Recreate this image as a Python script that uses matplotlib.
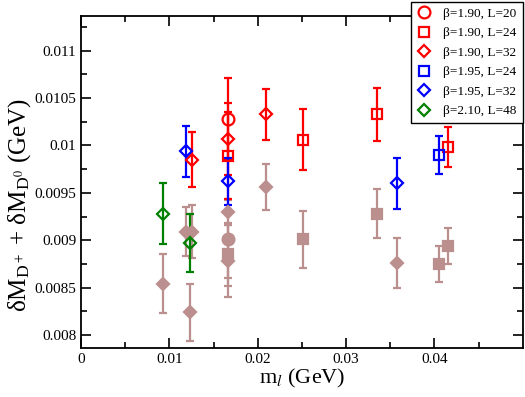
import matplotlib
matplotlib.use('Agg')
import matplotlib.pyplot as plt

plt.rcParams['font.family'] = ['Liberation Serif', 'DejaVu Serif']
plt.rcParams['mathtext.fontset'] = 'stix'

# beta=1.90, L=20 (red circles)
r20_x = [0.01668]
r20_y = [0.01028]
r20_e = [0.00043]
# beta=1.90, L=24 (red squares)
r24_x = [0.01668, 0.0251, 0.03348, 0.04159]
r24_y = [0.00989, 0.01006, 0.01033, 0.00998]
r24_e = [0.00046, 0.00032, 0.00028, 0.00021]
# beta=1.90, L=32 (red diamonds)
r32_x = [0.01253, 0.01668, 0.02091]
r32_y = [0.00985, 0.01007, 0.01033]
r32_e = [0.00029, 0.00038, 0.00027]
# beta=1.95, L=24 (blue squares)
b24_x = [0.04053]
b24_y = [0.0099]
b24_e = [0.0002]
# beta=1.95, L=32 (blue diamonds)
b32_x = [0.01185, 0.01668, 0.03574]
b32_y = [0.00994, 0.00962, 0.0096]
b32_e = [0.00027, 0.00025, 0.00027]
# beta=2.10, L=48 (green diamonds)
g48_x = [0.00925, 0.01234]
g48_y = [0.00928, 0.00897]
g48_e = [0.00032, 0.00031]

# brown filled points
bc_x = [0.01668]
bc_y = [0.00901]
bc_e = [0.00041]
bs_x = [0.01668, 0.0251, 0.03348, 0.04053, 0.04159]
bs_y = [0.00885, 0.00901, 0.00928, 0.00875, 0.00894]
bs_e = [0.00033, 0.0003, 0.00026, 0.00019, 0.00019]
bd_x = [0.00925, 0.01185, 0.01234, 0.01253, 0.01668, 0.01668, 0.02091, 0.03574]
bd_y = [0.00854, 0.00909, 0.00824, 0.00909, 0.0093, 0.00878, 0.00956, 0.00876]
bd_e = [0.00031, 0.00026, 0.0003, 0.00028, 0.00014, 0.00038, 0.00024, 0.00026]

brown = '#bc8f8f'

fig = plt.figure(figsize=(5.25, 3.97), dpi=100)
ax = fig.add_axes([0.1543, 0.1242, 0.8413, 0.8355])

def draw(x, y, e, marker, color, ms, label=None, filled=False):
    ax.errorbar(x, y, yerr=e, fmt='none', ecolor=color, elinewidth=1.6,
                capsize=3, capthick=1.6, zorder=2)
    ax.plot(x, y, ls='none', marker=marker, ms=ms, mec=color,
            mfc=color if filled else 'none', mew=1.6, label=label, zorder=3)

draw(bc_x, bc_y, bc_e, 'o', brown, 8.5, filled=True)
draw(bs_x, bs_y, bs_e, 's', brown, 7.5, filled=True)
draw(bd_x, bd_y, bd_e, 'D', brown, 6.5, filled=True)

draw(r20_x, r20_y, r20_e, 'o', 'red', 8.5, 'β=1.90, L=20')
draw(r24_x, r24_y, r24_e, 's', 'red', 7, 'β=1.90, L=24')
draw(r32_x, r32_y, r32_e, 'D', 'red', 6.5, 'β=1.90, L=32')
draw(b24_x, b24_y, b24_e, 's', 'blue', 7, 'β=1.95, L=24')
draw(b32_x, b32_y, b32_e, 'D', 'blue', 6.5, 'β=1.95, L=32')
draw(g48_x, g48_y, g48_e, 'D', 'green', 6.5, 'β=2.10, L=48')

ax.set_xlim(0, 0.05)
ax.set_ylim(0.007866, 0.011366)
ax.set_xticks([0, 0.01, 0.02, 0.03, 0.04])
ax.set_xticklabels(['0', '0.01', '0.02', '0.03', '0.04'])
ax.set_yticks([0.008, 0.0085, 0.009, 0.0095, 0.01, 0.0105, 0.011])
ax.set_yticklabels(['0.008', '0.0085', '0.009', '0.0095', '0.01', '0.0105', '0.011'])
ax.set_xticks([0.005, 0.015, 0.025, 0.035, 0.045], minor=True)
ax.set_yticks([0.00825 + 0.0005 * i for i in range(7)], minor=True)
ax.tick_params(which='both', direction='in', top=True, right=True, labelsize=11)
ax.tick_params(which='major', length=7, width=1.2)
ax.tick_params(which='minor', length=4, width=1.2)
for s in ax.spines.values():
    s.set_linewidth(1.3)

ax.set_xlabel(r'm$_{l}$ (GeV)', fontsize=16, labelpad=1)
ax.set_ylabel(r'δM$_{\mathregular{D}^+}$ + δM$_{\mathregular{D}^0}$ (GeV)', fontsize=18)
ax.yaxis.set_label_coords(-0.108, 0.43)

leg = ax.legend(loc='upper right', bbox_to_anchor=(0.9956, 0.9957),
                bbox_transform=fig.transFigure, borderaxespad=0,
                fancybox=False, edgecolor='black', fontsize=9.5,
                labelspacing=0.55, handlelength=1.0, handletextpad=1.0,
                borderpad=0.45, framealpha=1)
leg.get_frame().set_linewidth(1.0)

fig.savefig('out.png', dpi=100)
